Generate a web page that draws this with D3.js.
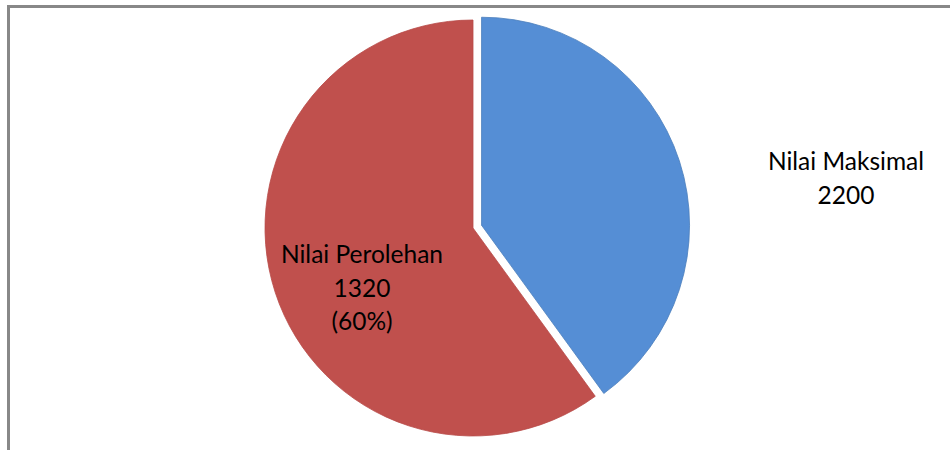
<!DOCTYPE html>
<html>
<head>
<meta charset="utf-8">
<script src="https://cdn.jsdelivr.net/npm/d3@7"></script>
<style>
  body { margin: 0; background: #fff; }
  svg text { font-family: Lato, "Noto Sans", sans-serif; fill: #000; }
</style>
</head>
<body>
<div id="chart"></div>
<script>
// slice data
var categories = ['Nilai Maksimal', 'Nilai Perolehan'];
var values = [880, 1320];
var label_lines = [['Nilai Maksimal', '2200'], ['Nilai Perolehan', '1320', '(60%)']];
var colours = ['#558ed5', '#c0504d'];
var edge_colours = ['#4a7ebb', '#b84a47'];

var width = 950, height = 450;
var cx = 473, cy = 228, radius = 208;
var explode = [9, 0];

var svg = d3.select('#chart').append('svg')
    .attr('width', width)
    .attr('height', height);

// chart frame (only top and left edges fall inside the window)
svg.append('rect')
    .attr('x', 8.5).attr('y', 6.5)
    .attr('width', 1000).attr('height', 500)
    .attr('fill', 'none')
    .attr('stroke', '#888')
    .attr('stroke-width', 3);

var pie = d3.pie().sort(null).value(function(d) { return d; });
var arcs = pie(values);

var arc = d3.arc().innerRadius(0).outerRadius(radius);

var g = svg.append('g').attr('transform', 'translate(' + cx + ',' + cy + ')');

g.selectAll('path')
    .data(arcs)
    .enter()
    .append('path')
    .attr('d', arc)
    .attr('transform', function(d, i) {
        var mid = (d.startAngle + d.endAngle) / 2;
        return 'translate(' + (Math.sin(mid) * explode[i]) + ',' + (-Math.cos(mid) * explode[i]) + ')';
    })
    .attr('fill', function(d, i) { return colours[i]; })
    .attr('stroke', function(d, i) { return edge_colours[i]; })
    .attr('stroke-width', 0.8);

// label positions (centre x, first baseline)
var label_pos = [[846, 170], [362, 263]];
var line_gap = 33.5;

label_lines.forEach(function(lines, i) {
    var t = svg.append('text')
        .attr('text-anchor', 'middle')
        .attr('font-size', 24.5);
    lines.forEach(function(s, j) {
        t.append('tspan')
            .attr('x', label_pos[i][0])
            .attr('y', label_pos[i][1] + j * line_gap)
            .text(s);
    });
});
</script>
</body>
</html>
